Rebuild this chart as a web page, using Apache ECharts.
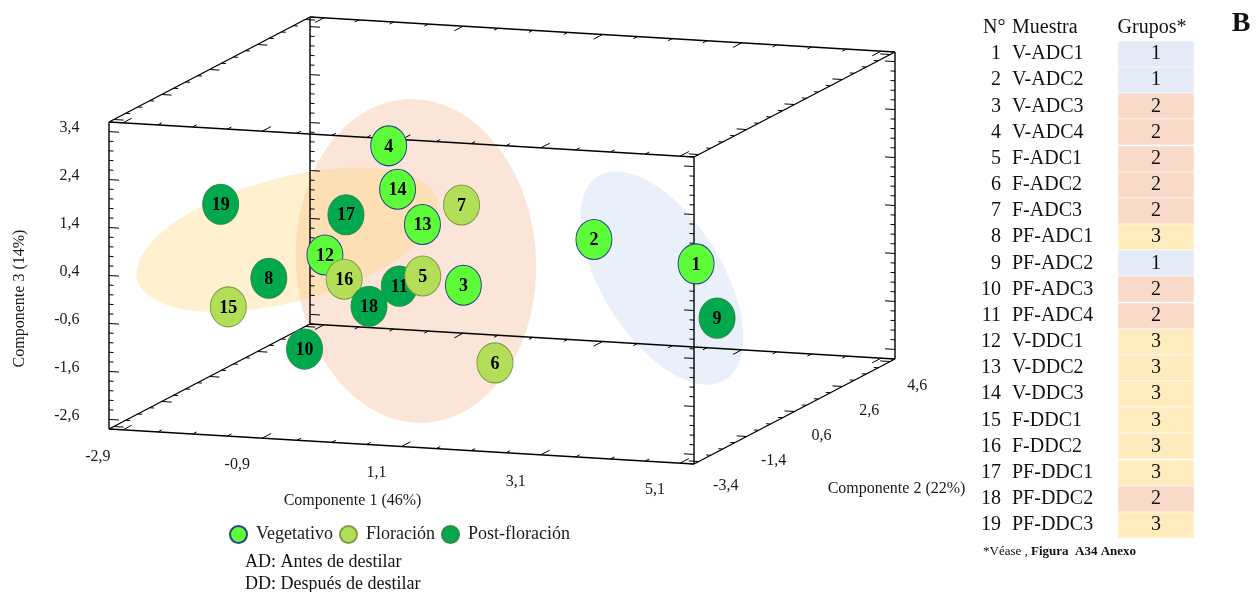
<!DOCTYPE html>
<html>
<head>
<meta charset="utf-8">
<script src="https://cdn.jsdelivr.net/npm/echarts@6/dist/echarts.min.js"></script>
<style>
  html, body { margin: 0; padding: 0; background: #fff; }
  #chart { width: 1257px; height: 592px; }
</style>
</head>
<body>
<div id="chart"></div>
<script>
// ---- Sample table -------------------------------------------------------
const sampleNo    = [1, 2, 3, 4, 5, 6, 7, 8, 9, 10, 11, 12, 13, 14, 15, 16, 17, 18, 19];
const sampleName  = ['V-ADC1', 'V-ADC2', 'V-ADC3', 'V-ADC4', 'F-ADC1', 'F-ADC2', 'F-ADC3',
                     'PF-ADC1', 'PF-ADC2', 'PF-ADC3', 'PF-ADC4', 'V-DDC1', 'V-DDC2', 'V-DDC3',
                     'F-DDC1', 'F-DDC2', 'PF-DDC1', 'PF-DDC2', 'PF-DDC3'];
const samplePhase = [0, 0, 0, 0, 1, 1, 1, 2, 2, 2, 2, 0, 0, 0, 1, 1, 2, 2, 2];
const sampleGroup = [1, 1, 2, 2, 2, 2, 2, 3, 1, 2, 2, 3, 3, 3, 3, 3, 3, 2, 3];

// ---- PCA scores ---------------------------------------------------------
const comp1 = [4.78, 2.97, 0.58, -1.18, 0.34, 1.72, 0.21, -1.87, 4.91, -0.67,
               -0.34, -1.58, -0.18, -0.88, -2.28, -0.96, -1.45, -0.26, -2.39];
const comp2 = [-2.0, -1.0, 0.5, 2.5, -0.5, -1.5, 1.5, -0.5, -1.5, -2.5,
               0.5, 1.0, 1.0, 2.0, -1.0, 0.0, 1.5, -1.0, -1.0];
const comp3 = [0.91, 1.00, -0.55, 1.68, -0.12, -1.55, 0.83, -0.36, -0.34, -1.21,
               -0.65, -0.24, 0.52, 0.93, -0.86, -0.43, 0.48, -0.67, 1.27];

// ---- Axes ---------------------------------------------------------------
const comp1Range = [-3.1, 5.3];
const comp2Range = [-3.6, 4.8];
const comp3Range = [-2.8, 3.6];
const comp1Labels = [-2.9, -0.9, 1.1, 3.1, 5.1];
const comp2Labels = [-3.4, -1.4, 0.6, 2.6, 4.6];
const comp3Labels = [-2.6, -1.6, -0.6, 0.4, 1.4, 2.4, 3.4];
const axisNames = ['Componente 1 (46%)', 'Componente 2 (22%)', 'Componente 3 (14%)'];

const phaseNames = ['Vegetativo', 'Floración', 'Post-floración'];

// Cluster groups (centre in component space)
const groupCentre = { 1: [3.60, 0, -0.01], 2: [0.07, 0, 0.04], 3: [-1.78, 0, 0.32] };

// ---- Styling ------------------------------------------------------------
const FONT = '"Liberation Serif", "Times New Roman", serif';
const phaseFill   = ['#5DFC38', '#B3DE58', '#00A84E'];
const phaseBorder = ['#27408E', '#7E9A45', '#2F8A45'];
const groupCellFill = { 1: '#E4EAF6', 2: '#F9DAC8', 3: '#FFEBBD' };
const ellipseStyle = {
  2: { rx: 120, ry: 162, angle: -3.5, fill: 'rgba(240,160,110,0.27)' },
  3: { rx: 155, ry: 62,  angle: -15,  fill: 'rgba(255,208,100,0.30)' },
  1: { rx: 120, ry: 60,  angle: 58,   fill: 'rgba(170,195,230,0.25)' }
};
const ellipseOrder = [2, 3, 1];

// Oblique view: screen vectors spanned by each full axis range
const VIEW = { x: [585, 35], y: [201, -105], z: [0, -307] };
const SPAN_U = VIEW.x[0] + VIEW.y[0];
const W_MIN = -VIEW.x[1], W_MAX = -VIEW.z[1] - VIEW.y[1];

const ranges = [comp1Range, comp2Range, comp3Range];
function project(p) {
  const a = (p[0] - comp1Range[0]) / (comp1Range[1] - comp1Range[0]);
  const b = (p[1] - comp2Range[0]) / (comp2Range[1] - comp2Range[0]);
  const c = (p[2] - comp3Range[0]) / (comp3Range[1] - comp3Range[0]);
  return [a * VIEW.x[0] + b * VIEW.y[0] + c * VIEW.z[0],
          -(a * VIEW.x[1] + b * VIEW.y[1] + c * VIEW.z[1])];
}
function steps(from, to, step) {
  const out = [];
  for (let i = 0; from + i * step <= to + 1e-9; i++) out.push(+(from + i * step).toFixed(3));
  return out;
}
const axisTicks = [
  { minor: steps(comp1Labels[0], comp1Labels[comp1Labels.length - 1], 0.5), major: comp1Labels },
  { minor: steps(comp2Labels[0], comp2Labels[comp2Labels.length - 1], 0.5), major: comp2Labels },
  { minor: steps(comp3Range[0], comp3Range[1], 0.2), major: comp3Labels }
];
const isMajor = (v, list) => list.some(m => Math.abs(m - v) < 1e-6);
const fmt = v => String(v).replace('.', ',');

// ---- Box with ticks -----------------------------------------------------
function renderBox(params, api) {
  const pt = p => api.coord(project(p));
  const lo = ranges.map(r => r[0]), hi = ranges.map(r => r[1]);
  const o = pt(lo);
  const unit = k => { const q = lo.slice(); q[k] += 1; const s = pt(q);
    const dx = s[0] - o[0], dy = s[1] - o[1], n = Math.hypot(dx, dy); return [dx / n, dy / n]; };
  const dirs = [unit(0), unit(1), unit(2)];
  const kids = [];
  const seg = (a, b, w) => kids.push({ type: 'line',
    shape: { x1: a[0], y1: a[1], x2: b[0], y2: b[1] },
    style: { stroke: '#000', lineWidth: w } });
  for (let k = 0; k < 3; k++) {
    const others = [0, 1, 2].filter(j => j !== k);
    for (const s1 of [0, 1]) for (const s2 of [0, 1]) {
      const a = [0, 0, 0], b = [0, 0, 0];
      a[k] = lo[k]; b[k] = hi[k];
      a[others[0]] = b[others[0]] = s1 ? hi[others[0]] : lo[others[0]];
      a[others[1]] = b[others[1]] = s2 ? hi[others[1]] : lo[others[1]];
      seg(pt(a), pt(b), 1.4);
      let dAxis, dSign;
      if (k === 0) { dAxis = 1; dSign = a[1] === lo[1] ? 1 : -1; }
      else { dAxis = 0; dSign = a[0] === lo[0] ? 1 : -1; }
      const d = dirs[dAxis];
      for (const v of axisTicks[k].minor) {
        const q = a.slice(); q[k] = v;
        const s = pt(q);
        const len = isMajor(v, axisTicks[k].major) ? 10 : 4.5;
        seg(s, [s[0] + dSign * d[0] * len, s[1] + dSign * d[1] * len], 1);
      }
    }
  }
  return { type: 'group', children: kids };
}

// ---- Axis tick labels and titles -----------------------------------------
function renderAxisText(params, api) {
  const pt = p => api.coord(project(p));
  const kids = [];
  const txt = (s, x, y, align, extra) => kids.push(Object.assign({
    type: 'text', x: x, y: y,
    style: { text: s, fill: '#1a1a1a', font: '16px ' + FONT, align: align, verticalAlign: 'middle' }
  }, extra || {}));
  comp1Labels.forEach(v => { const s = pt([v, comp2Range[0], comp3Range[0]]); txt(fmt(v), s[0] - 25, s[1] + 26.5, 'center'); });
  comp2Labels.forEach(v => { const s = pt([comp1Range[1], v, comp3Range[0]]); txt(fmt(v), s[0] + 27, s[1] + 24, 'center'); });
  comp3Labels.forEach(v => { const s = pt([comp1Range[0], comp2Range[0], v]); txt(fmt(v), s[0] - 29.5, s[1] - 4, 'right'); });
  const m1 = pt([1.1, comp2Range[0], comp3Range[0]]);
  txt(axisNames[0], m1[0] - 49, m1[1] + 54, 'center');
  const m2 = pt([comp1Range[1], 0.6, comp3Range[0]]);
  txt(axisNames[1], m2[0] + 102, m2[1] + 77.5, 'center');
  const m3 = pt([comp1Range[0], comp2Range[0], 0.4]);
  txt(axisNames[2], m3[0] - 89, m3[1] + 23, 'center', { rotation: Math.PI / 2 });
  return { type: 'group', children: kids };
}

// ---- Cluster ellipses -----------------------------------------------------
function renderEllipses(params, api) {
  const kids = [];
  ellipseOrder.forEach(g => {
    const st = ellipseStyle[g];
    const c = api.coord(project(groupCentre[g]));
    const t = st.angle * Math.PI / 180, ct = Math.cos(t), sn = Math.sin(t);
    const pts = [];
    for (let i = 0; i < 120; i++) {
      const a = i / 120 * Math.PI * 2;
      const ex = st.rx * Math.cos(a), ey = st.ry * Math.sin(a);
      pts.push([c[0] + ex * ct - ey * sn, c[1] + ex * sn + ey * ct]);
    }
    kids.push({ type: 'polygon', shape: { points: pts }, style: { fill: st.fill, stroke: null } });
  });
  return { type: 'group', children: kids };
}

// ---- Scores, back to front ------------------------------------------------
const drawOrder = sampleNo.map((n, i) => i).sort((i, j) => comp2[j] - comp2[i]);
const pointData = drawOrder.map(i => ({
  name: String(sampleNo[i]),
  value: project([comp1[i], comp2[i], comp3[i]]),
  itemStyle: { color: phaseFill[samplePhase[i]], borderColor: phaseBorder[samplePhase[i]],
               borderWidth: 1, opacity: 1 }
}));

// ---- Table panel ----------------------------------------------------------
const tbl = { numRight: 1001, nameLeft: 1012, cellLeft: 1118, cellWidth: 76, headY: 28, firstY: 54, rowH: 26.17 };
const graphics = [];
const tText = (s, x, y, align, font, extra) => graphics.push(Object.assign({
  type: 'text', x: x, y: y, z: 10,
  style: { text: s, fill: '#111', font: font, align: align, verticalAlign: 'middle' }
}, extra || {}));
const TF = '20px ' + FONT;
tText('N°', 983, tbl.headY, 'left', TF);
tText('Muestra', tbl.nameLeft, tbl.headY, 'left', TF);
tText('Grupos*', tbl.cellLeft + 34, tbl.headY, 'center', TF);
sampleNo.forEach((n, i) => {
  const y = tbl.firstY + i * tbl.rowH;
  graphics.push({ type: 'rect', z: 9,
    shape: { x: tbl.cellLeft, y: Math.round(y - tbl.rowH / 2), width: tbl.cellWidth, height: Math.round(tbl.rowH) },
    style: { fill: groupCellFill[sampleGroup[i]], stroke: 'rgba(255,255,255,0.7)', lineWidth: 0.8 } });
  tText(String(n), tbl.numRight, y, 'right', TF);
  tText(sampleName[i], tbl.nameLeft, y, 'left', TF);
  tText(String(sampleGroup[i]), tbl.cellLeft + tbl.cellWidth / 2, y, 'center', TF);
});
graphics.push({ type: 'text', x: 983, y: 552, z: 10,
  style: { text: '{a|*Véase , }{b|Figura  A34 Anexo}', verticalAlign: 'middle', align: 'left',
    rich: { a: { font: '13px ' + FONT, fill: '#111' }, b: { font: 'bold 13px ' + FONT, fill: '#111' } } } });
tText('B', 1241, 24, 'center', 'bold 28px ' + FONT);
tText('AD: Antes de destilar', 245, 562, 'left', '18px ' + FONT);
tText('DD: Después de destilar', 245, 584, 'left', '18px ' + FONT);

// ---- Chart ------------------------------------------------------------------
const chart = echarts.init(document.getElementById('chart'), null, { renderer: 'canvas' });
chart.setOption({
  animation: false,
  backgroundColor: '#fff',
  grid: { left: 109, top: 17, width: SPAN_U, height: W_MAX - W_MIN, outerBoundsMode: 'none' },
  xAxis: { type: 'value', min: 0, max: SPAN_U, show: false },
  yAxis: { type: 'value', min: W_MIN, max: W_MAX, show: false },
  legend: {
    left: 229, top: 525, padding: 0, icon: 'circle', itemWidth: 17, itemHeight: 19, itemGap: 6,
    selectedMode: false,
    data: phaseNames,
    textStyle: { fontFamily: FONT, fontSize: 18, color: '#1a1a1a', padding: [0, 0, 0, 4] }
  },
  graphic: graphics,
  series: [
    { type: 'custom', coordinateSystem: 'cartesian2d', z: 1, silent: true, clip: false,
      data: [[0, 0]], renderItem: renderEllipses },
    { type: 'custom', coordinateSystem: 'cartesian2d', z: 2, silent: true, clip: false,
      data: [[0, 0]], renderItem: renderBox },
    { type: 'custom', coordinateSystem: 'cartesian2d', z: 2, silent: true, clip: false,
      data: [[0, 0]], renderItem: renderAxisText },
    { type: 'scatter', z: 3, clip: false, symbol: 'circle', symbolSize: [36, 40],
      data: pointData,
      label: { show: true, position: 'inside', formatter: '{b}', offset: [0, 1],
        fontFamily: FONT, fontWeight: 'bold', fontSize: 18, color: '#000' } }
  ].concat(phaseNames.map((n, k) => ({
    type: 'scatter', name: n, data: [],
    itemStyle: { color: phaseFill[k], borderColor: phaseBorder[k], borderWidth: 1, opacity: 1 }
  })))
});
</script>
</body>
</html>
